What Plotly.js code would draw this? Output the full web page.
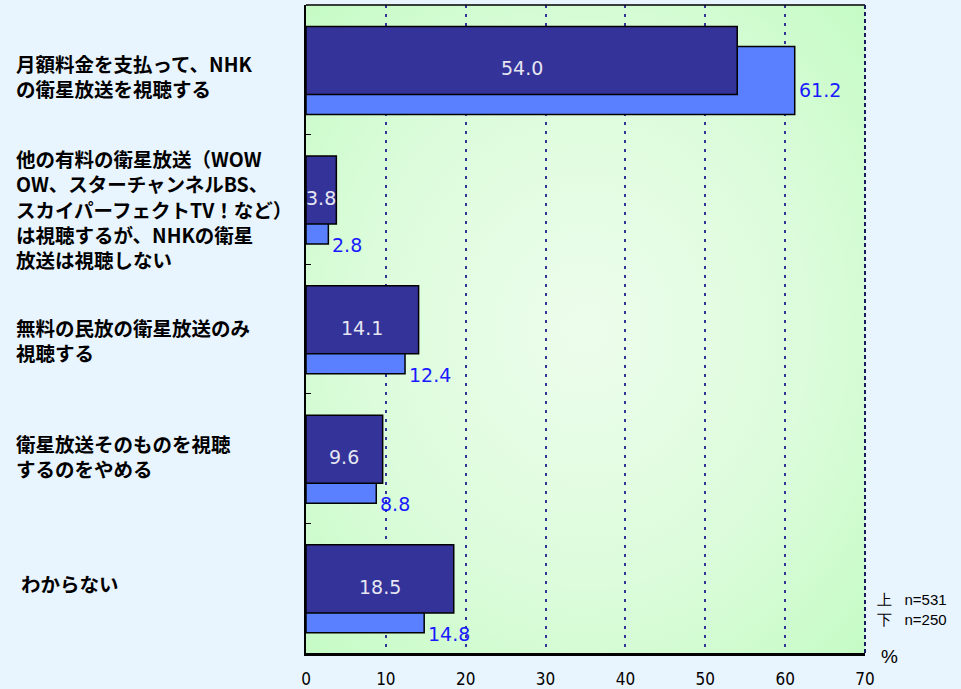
<!DOCTYPE html>
<html>
<head>
<meta charset="utf-8">
<script src="https://cdn.plot.ly/plotly-3.0.1.min.js"></script>
<style>
html,body{margin:0;padding:0;background:#e8f4fe;}
#chart{width:961px;height:689px;}
</style>
</head>
<body>
<div id="chart"></div>
<script>
// ---- data ----
const categories = [
  "月額料金を支払って、NHK<br>の衛星放送を視聴する",
  "他の有料の衛星放送（WOW<br>OW、スターチャンネルBS、<br>スカイパーフェクトTV！など）<br>は視聴するが、NHKの衛星<br>放送は視聴しない",
  "無料の民放の衛星放送のみ<br>視聴する",
  "衛星放送そのものを視聴<br>するのをやめる",
  "わからない"
];
const upperValues = [54.0, 3.8, 14.1, 9.6, 18.5];   // 上 n=531
const lowerValues = [61.2, 2.8, 12.4, 8.8, 14.8];   // 下 n=250
const xTicks = [0, 10, 20, 30, 40, 50, 60, 70];
const legendText = "上&nbsp;&nbsp;&nbsp;n=531<br>下&nbsp;&nbsp;&nbsp;n=250";

// ---- styling / geometry ----
const pos = categories.map((_, i) => i);
const barW = 0.525;
const darkC = -0.072, lightC = 0.082;
const labelYShift = [-6, -10, -11, 3, 5];
const labelXShift = [-292, -292, -292, -292, -287];
const lowerLabelYShift = [-10, -35, -35, -35, -35];

const bgSvg = "<svg xmlns='http://www.w3.org/2000/svg' width='200' height='200' preserveAspectRatio='none'>" +
  "<defs><radialGradient id='g' cx='50%' cy='50%' r='72%'>" +
  "<stop offset='0' stop-color='#edfdec'/><stop offset='0.55' stop-color='#dcfcdb'/><stop offset='1' stop-color='#c4fbc4'/>" +
  "</radialGradient></defs><rect width='200' height='200' fill='url(#g)'/></svg>";

const traces = [
  {
    type: 'bar', orientation: 'h', name: '下',
    x: lowerValues, y: pos,
    width: barW, offset: lightC - barW / 2,
    marker: {color: '#5b80ff', line: {color: '#000000', width: 1.5}},
    hoverinfo: 'x'
  },
  {
    type: 'bar', orientation: 'h', name: '上',
    x: upperValues, y: pos,
    width: barW, offset: darkC - barW / 2,
    marker: {color: '#333399', line: {color: '#000000', width: 1.5}},
    hoverinfo: 'x'
  }
];

const annotations = [];
categories.forEach((c, i) => {
  annotations.push({
    xref: 'paper', yref: 'y', x: 0, y: i, xshift: labelXShift[i], yshift: labelYShift[i],
    xanchor: 'left', yanchor: 'middle', align: 'left', showarrow: false,
    text: '<b>' + c + '</b>',
    font: {family: '"Noto Sans CJK JP", sans-serif', size: 19.5, color: '#000000'}
  });
});
upperValues.forEach((v, i) => {
  annotations.push({
    xref: 'x', yref: 'y', x: v / 2, y: i + darkC, yshift: -8,
    xanchor: 'center', yanchor: 'middle', showarrow: false,
    text: v.toFixed(1),
    font: {family: '"DejaVu Sans", sans-serif', size: 19, color: '#e6e6f2'}
  });
});
lowerValues.forEach((v, i) => {
  annotations.push({
    xref: 'x', yref: 'y', x: v, y: i + lightC, xshift: 2, yshift: lowerLabelYShift[i],
    xanchor: 'left', yanchor: 'middle', showarrow: false,
    text: v.toFixed(1),
    font: {family: '"DejaVu Sans", sans-serif', size: 19, color: '#1a1aff'}
  });
});
annotations.push({
  xref: 'paper', yref: 'paper', x: 1, y: 0, xshift: 10, yshift: 44,
  xanchor: 'left', yanchor: 'middle', align: 'left', showarrow: false,
  text: legendText,
  font: {family: '"Liberation Sans", Arial, sans-serif', size: 15, color: '#000000'}
});
annotations.push({
  xref: 'paper', yref: 'paper', x: 1, y: 0, xshift: 14, yshift: -3,
  xanchor: 'left', yanchor: 'middle', showarrow: false,
  text: '%',
  font: {family: '"Liberation Sans", Arial, sans-serif', size: 19, color: '#000000'}
});

const layout = {
  width: 961, height: 689,
  margin: {l: 306, r: 96, t: 5, b: 36},
  paper_bgcolor: '#e8f4fe',
  plot_bgcolor: '#d6fcd6',
  showlegend: false,
  barmode: 'overlay',
  xaxis: {
    range: [0, 70], tickvals: xTicks, ticktext: xTicks.map(String),
    showgrid: true, gridcolor: '#333399', gridwidth: 2, griddash: '3px,6px',
    zeroline: false, showline: true, linecolor: '#000000', linewidth: 2.5,
    ticks: 'outside', ticklen: 9, tickcolor: 'rgba(0,0,0,0)',
    tickfont: {family: '"Liberation Sans Narrow", "DejaVu Sans Condensed", sans-serif', size: 17, color: '#000000'},
    fixedrange: true
  },
  yaxis: {
    range: [4.5, -0.5], tickvals: [0.5, 1.5, 2.5, 3.5], ticktext: ['', '', '', ''],
    ticks: 'inside', ticklen: 5, tickcolor: '#000000', tickwidth: 1,
    showgrid: false, zeroline: false, showline: true, linecolor: '#000000', linewidth: 2,
    fixedrange: true
  },
  images: [{
    source: 'data:image/svg+xml;charset=utf-8,' + encodeURIComponent(bgSvg),
    xref: 'paper', yref: 'paper', x: 0, y: 1, sizex: 1, sizey: 1,
    sizing: 'stretch', layer: 'below', xanchor: 'left', yanchor: 'top'
  }],
  shapes: [
    {type: 'line', xref: 'paper', yref: 'paper', x0: 0, x1: 1, y0: 1, y1: 1, line: {color: '#000000', width: 1.5}},
    {type: 'line', xref: 'paper', yref: 'paper', x0: 1, x1: 1, y0: 0, y1: 1, line: {color: '#1a1a60', width: 2, dash: '4px,3px'}}
  ],
  annotations: annotations
};

Plotly.newPlot('chart', traces, layout, {displayModeBar: false, staticPlot: true});
</script>
</body>
</html>
